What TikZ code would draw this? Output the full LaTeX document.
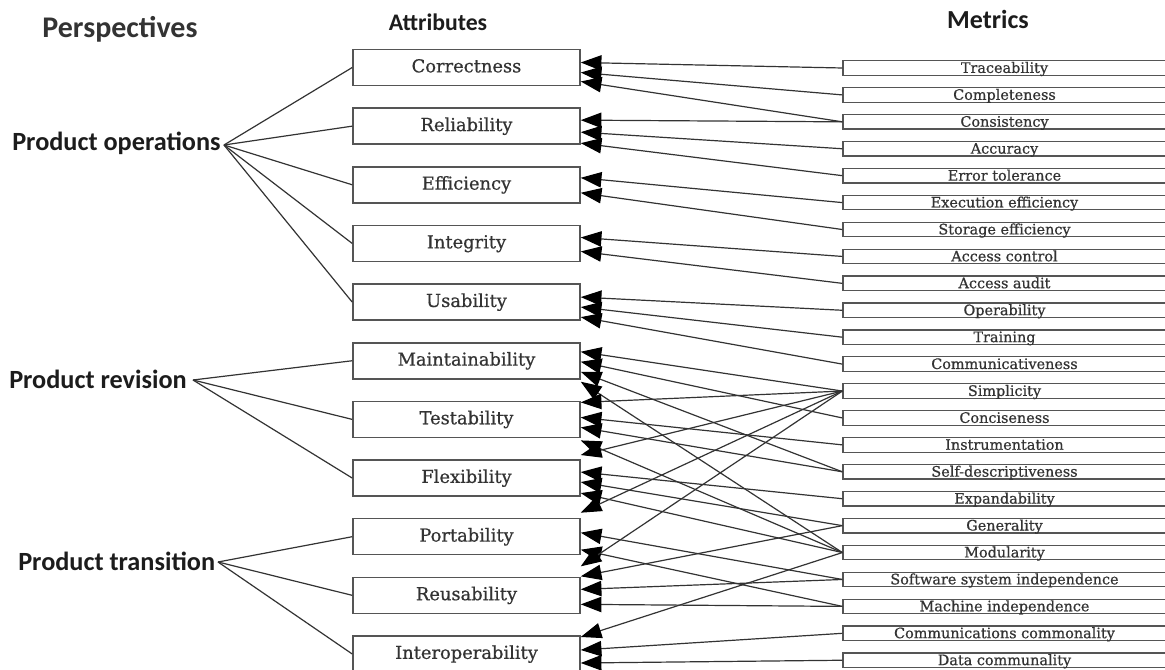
\documentclass[tikz,border=0pt]{standalone}
\usepackage{fontspec}
\newfontfamily\headfont{Carlito}
\newfontfamily\boxfont[FakeBold=0.6]{DejaVu Serif}
\usetikzlibrary{arrows.meta,calc}
\definecolor{ink}{HTML}{1C1C1C}
\definecolor{boxgray}{HTML}{555555}
\definecolor{txt}{HTML}{333333}
\definecolor{wire}{HTML}{333333}
% one connector: metric box -> attribute box, arriving dy px below its centre line
\newcommand\lnk[3]{\draw[link] (#1.west) -- ($(#2.east)+(0,#3)$);}
\begin{document}
\begin{tikzpicture}[x=0.75pt,y=-0.75pt,
  attrbox/.style={draw=boxgray,line width=1.15pt,fill=white,minimum width=170.25pt,
    minimum height=27pt,inner sep=0pt,text height=0.73em,text depth=0pt,
    font=\boxfont\fontsize{13.4}{15}\selectfont,text=txt},
  metricbox/.style={draw=boxgray,line width=0.95pt,fill=white,minimum width=242.25pt,
    minimum height=10.9pt,inner sep=0pt,text height=0.73em,text depth=0pt,
    font=\boxfont\fontsize{10.8}{12}\selectfont,text=txt},
  headlabel/.style={inner sep=0pt,text=ink},
  persp/.style={inner sep=0pt,anchor=west,text=ink,
    font=\headfont\bfseries\fontsize{19.7}{22}\selectfont},
  wireline/.style={draw=wire,line width=0.9pt},
  link/.style={wireline,-{Triangle[length=15.5pt,width=11.5pt,color=black]}},
]
\useasboundingbox (0,0) rectangle (1165,670);
\fill[white] (0,0) rectangle (1165,670);

% column headings
\node[headlabel,font=\headfont\bfseries\fontsize{22.5}{26}\selectfont,text=txt] (hpersp) at (120,29) {Perspectives};
\node[headlabel,font=\headfont\bfseries\fontsize{17.8}{21}\selectfont] (hattr) at (438,22) {Attributes};
\node[headlabel,font=\headfont\bfseries\fontsize{19.5}{23}\selectfont] (hmetr) at (988,19) {Metrics};

% metrics column
\foreach \n/\t [count=\i from 0] in {
  trace/Traceability, complete/Completeness, consist/Consistency, accur/Accuracy,
  errtol/Error tolerance, execeff/Execution efficiency, storeff/Storage efficiency,
  accctl/Access control, accaud/Access audit, oper/Operability, train/Training,
  comm/Communicativeness, simp/Simplicity, conc/Conciseness, instr/Instrumentation,
  selfdesc/Self-descriptiveness, expand/Expandability, gen/Generality, mod/Modularity,
  ssi/Software system independence, mi/Machine independence,
  cc/Communications commonality, dc/Data communality}
  \node[metricbox] (\n) at (1004.5,{68+26.92*\i}) {\t};

% attributes column
\foreach \n/\t [count=\i from 0] in {
  correct/Correctness, reliab/Reliability, effic/Efficiency, integ/Integrity,
  usab/Usability, maint/Maintainability, testab/Testability, flex/Flexibility,
  port/Portability, reuse/Reusability, interop/Interoperability}
  \node[attrbox] (\n) at (466.5,{67.5+58.65*\i}) {\t};

% perspectives
\node[persp] (pops) at (12,143) {Product operations};
\node[persp] (prev) at (9,379) {Product revision};
\node[persp] (ptra) at (18,561) {Product transition};
\coordinate (popsx) at (224,145);
\coordinate (prevx) at (193,380);
\coordinate (ptrax) at (218,562);

\foreach \a in {correct,reliab,effic,integ,usab} \draw[wireline] (popsx) -- (\a.west);
\foreach \a in {maint,testab,flex} \draw[wireline] (prevx) -- (\a.west);
\foreach \a in {port,reuse,interop} \draw[wireline] (ptrax) -- (\a.west);

% metric -> attribute links
\lnk{trace}{correct}{-5}
\lnk{complete}{correct}{5}
\lnk{consist}{correct}{14}
\lnk{consist}{reliab}{-6}
\lnk{accur}{reliab}{6}
\lnk{errtol}{reliab}{17}
\lnk{execeff}{effic}{-7}
\lnk{storeff}{effic}{8}
\lnk{accctl}{integ}{-6}
\lnk{accaud}{integ}{8}
\lnk{oper}{usab}{-5}
\lnk{train}{usab}{5}
\lnk{comm}{usab}{15}
\lnk{simp}{maint}{-9}
\lnk{conc}{maint}{1}
\lnk{selfdesc}{maint}{11}
\lnk{mod}{maint}{21}
\lnk{simp}{testab}{-17}
\lnk{instr}{testab}{-2}
\lnk{selfdesc}{testab}{8}
\lnk{mod}{testab}{21}
\lnk{simp}{flex}{-23}
\lnk{expand}{flex}{-6}
\lnk{gen}{flex}{4}
\lnk{mod}{flex}{15}
\lnk{simp}{port}{-24}
\lnk{ssi}{port}{-4}
\lnk{mi}{port}{13}
\lnk{simp}{reuse}{-29}
\lnk{gen}{reuse}{-19}
\lnk{ssi}{reuse}{-6}
\lnk{mi}{reuse}{9}
\lnk{mod}{interop}{-17}
\lnk{cc}{interop}{-4}
\lnk{dc}{interop}{9}
\end{tikzpicture}
\end{document}
